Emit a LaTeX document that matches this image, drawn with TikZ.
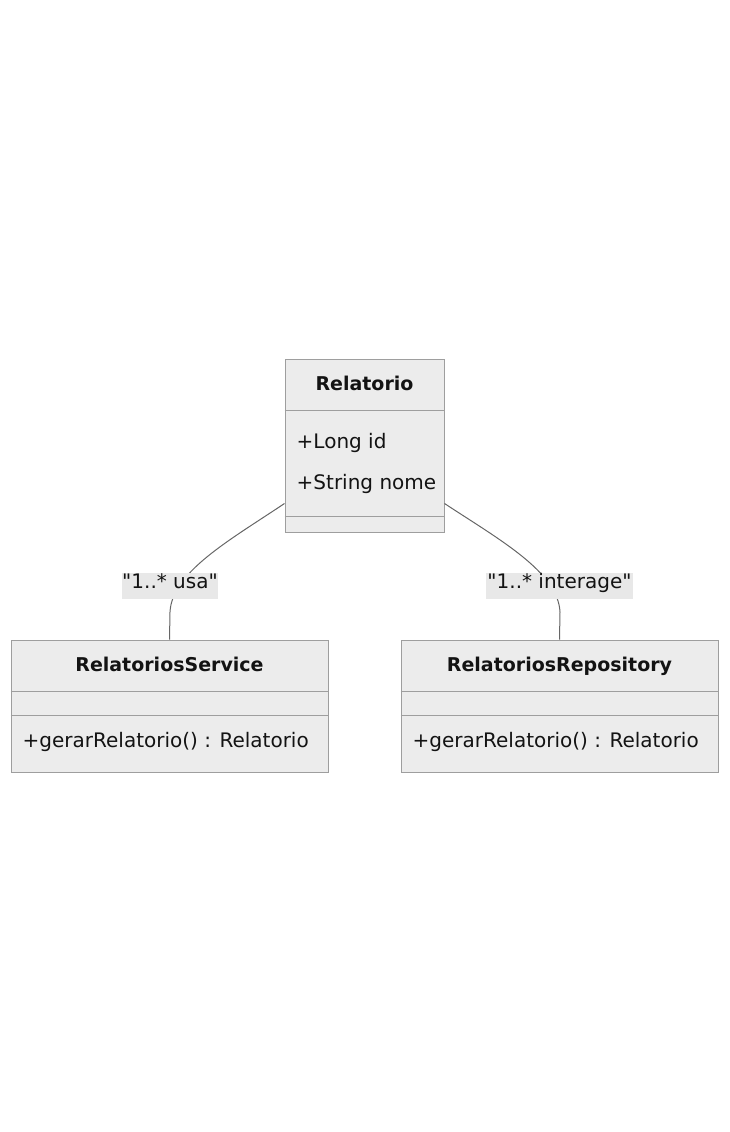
\documentclass[tikz,border=0pt]{standalone}
\usepackage{fontspec}
\setmainfont[Ligatures=TeXOff]{DejaVu Sans}
\usetikzlibrary{positioning}
\definecolor{boxfill}{HTML}{ECECEC}
\definecolor{boxline}{HTML}{9E9E9E}
\definecolor{edgeline}{HTML}{666666}
\definecolor{labelfill}{HTML}{E8E8E8}
\definecolor{textcol}{HTML}{131313}
\tikzset{
  classbox/.style = {rectangle, draw=boxline, fill=boxfill, line width=1pt, inner sep=0pt},
  divider/.style = {draw=boxline, line width=1pt},
  title/.style = {font=\fontsize{19}{22}\selectfont\bfseries, text=textcol, inner sep=0pt, text height=0.75em, text depth=0.22em},
  member/.style = {font=\fontsize{20}{24}\selectfont, text=textcol, anchor=west, inner sep=0pt, text height=0.75em, text depth=0.22em},
  assoc/.style = {draw=edgeline, line width=1pt},
  assoclabel/.style = {fill=labelfill, font=\fontsize{20}{24}\selectfont, text=textcol, inner sep=0pt, minimum height=26pt, text height=0.75em, text depth=0.22em}
}
\begin{document}
\begin{tikzpicture}[x=1pt, y=-1pt]
  \useasboundingbox (0,0) rectangle (730,1132);
  % classes
  \node (Relatorio)[classbox, minimum width=159pt, minimum height=173pt] at (364.5,445.5) {};
  \node (Service)[classbox, minimum width=317pt, minimum height=132pt] at (169.5,706) {};
  \node (Repository)[classbox, minimum width=317pt, minimum height=132pt] at (559.5,706) {};
  % compartments
  \draw[divider] ([yshift=-52pt]Relatorio.north west) -- ([yshift=-52pt]Relatorio.north east);
  \draw[divider] ([yshift=16pt]Relatorio.south west) -- ([yshift=16pt]Relatorio.south east);
  \foreach \cls in {Service, Repository} {
    \draw[divider] ([yshift=-52pt]\cls.north west) -- ([yshift=-52pt]\cls.north east);
    \draw[divider] ([yshift=-76pt]\cls.north west) -- ([yshift=-76pt]\cls.north east);
  }
  % texts
  \node (Relatorio title)[title] at ([yshift=-29pt]Relatorio.north) {Relatorio};
  \node (Relatorio id)[member] at ([xshift=12pt, yshift=-87pt]Relatorio.north west) {+Long id};
  \node (Relatorio nome)[member] at ([xshift=12pt, yshift=-128pt]Relatorio.north west) {+String nome};
  \node (Service title)[title] at ([yshift=-29pt]Service.north) {RelatoriosService};
  \node (Service op)[member] at ([xshift=12pt, yshift=-105pt]Service.north west) {+gerarRelatorio() : Relatorio};
  \node (Repository title)[title] at ([yshift=-29pt]Repository.north) {RelatoriosRepository};
  \node (Repository op)[member] at ([xshift=12pt, yshift=-105pt]Repository.north west) {+gerarRelatorio() : Relatorio};
  % associations
  \draw[assoc] ([yshift=29pt]Relatorio.south west) .. controls (230,540) and (172,572) .. (170,612) -- (Service.north);
  \draw[assoc] ([yshift=29pt]Relatorio.south east) .. controls (500,540) and (558,572) .. (560,612) -- (Repository.north);
  \node (usa)[assoclabel, minimum width=94pt] at (170,586) {"1..* usa"};
  \node (interage)[assoclabel, minimum width=147pt] at (559.5,586) {"1..* interage"};
\end{tikzpicture}
\end{document}
